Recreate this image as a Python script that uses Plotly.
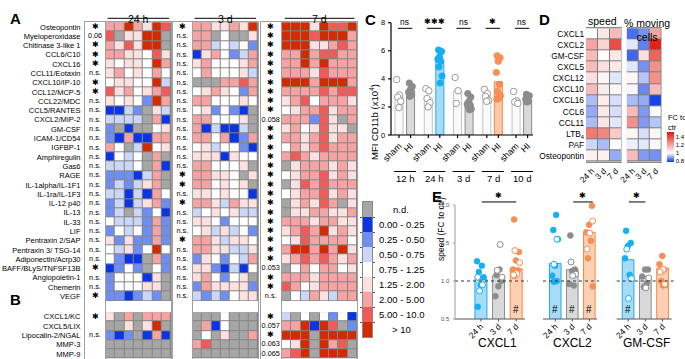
import plotly.graph_objects as go

W, H = 685, 359
def PX(x): return x / W
def PY(y): return 1 - y / H
FONT = "Liberation Sans, Arial, sans-serif"

# ---------------- Panel A / B data ----------------
rows_A = ["Osteopontin", "Myeloperoxidase", "Chitinase 3-like 1", "CCL6/C10", "CXCL16",
          "CCL11/Eotaxin", "CXCL10/IP-10", "CCL12/MCP-5", "CCL22/MDC", "CCL5/RANTES",
          "CXCL2/MIP-2", "GM-CSF", "ICAM-1/CD54", "IGFBP-1", "Amphiregulin", "Gas6", "RAGE",
          "IL-1alpha/IL-1F1", "IL-1ra/IL-1F3", "IL-12 p40", "IL-13", "IL-33", "LIF",
          "Pentraxin 2/SAP", "Pentraxin 3/ TSG-14", "Adiponectin/Acrp30", "BAFF/BLyS/TNFSF13B",
          "Angiopoietin-1", "Chemerin", "VEGF"]
rows_B = ["CXCL1/KC", "CXCL5/LIX", "Lipocalin-2/NGAL", "MMP-3", "MMP-9"]

# category codes: 0 n.d., 1 0-0.25, 2 0.25-0.5, 3 0.5-0.75, 4 0.75-1.25, 5 1.25-2, 6 2-5, 7 5-10, 8 >10
hm24_A = [
    [6,6,8,6,5,8,7],[7,0,5,5,8,8,0],[6,5,7,5,8,8,0],[6,6,5,5,4,7,5],[5,4,5,5,4,8,6],
    [5,6,4,5,4,6,4],[4,5,5,4,4,8,3],[7,5,6,4,5,6,7],[5,4,5,4,2,8,6],[1,1,3,2,0,5,3],
    [3,3,3,3,0,6,1],[2,0,1,0,0,4,5],[2,1,6,1,1,6,6],[6,4,0,3,8,4,5],[1,4,3,4,0,6,0],
    [3,3,3,4,0,6,1],[2,2,2,1,3,6,0],[2,3,2,3,5,6,0],[3,3,1,3,1,6,4],[2,3,1,3,5,6,2],
    [2,3,0,3,2,4,1],[4,3,3,3,2,6,2],[2,4,3,4,2,6,2],[5,2,5,2,2,6,2],[4,3,5,2,4,8,4],
    [4,2,1,1,0,6,2],[1,2,4,2,0,4,2],[2,4,4,4,1,5,0],[2,4,4,4,5,5,0],[2,2,1,2,3,2,0]]
hm3d_A = [
    [6,6,5,5,6,5,8],[6,6,0,4,0,0,5],[6,6,3,4,3,4,2],[1,5,6,4,2,3,6],[5,6,4,4,4,5,6],
    [4,6,4,4,4,5,3],[0,0,0,6,6,7,6],[4,5,6,5,4,2,6],[6,6,4,4,4,5,4],[4,5,2,4,2,1,0],
    [6,6,4,4,4,5,0],[6,1,3,1,1,3,0],[6,6,4,6,1,2,6],[4,5,3,4,4,2,1],[5,5,5,1,5,4,4],
    [6,6,4,4,4,5,0],[6,6,5,5,4,0,5],[6,6,4,5,4,5,0],[5,5,4,5,4,4,1],[6,6,5,3,6,5,5],
    [3,4,5,4,5,3,3],[5,5,4,2,4,4,4],[4,5,3,5,3,4,2],[6,6,5,3,5,5,4],[6,6,5,5,3,3,5],
    [2,5,4,2,4,3,6],[5,5,2,1,3,1,4],[5,6,4,2,4,5,0],[2,6,5,5,5,5,2],[3,2,3,2,4,5,5]]
hm7d_A = [
    [8,8,8,5,8,7,7,8],[8,8,8,7,8,8,8,6],[8,8,8,5,5,6,7,6],[6,6,8,6,7,7,6,6],[6,6,8,6,8,6,6,6],
    [6,6,6,5,7,6,6,6],[8,8,8,6,8,8,8,6],[6,6,6,6,7,6,7,7],[5,6,7,4,6,6,6,5],[4,5,6,6,7,5,6,6],
    [6,6,6,2,7,5,0,6],[5,6,4,5,7,5,5,0],[6,6,5,6,7,5,6,6],[4,6,5,6,7,6,6,6],[6,7,6,5,6,6,6,6],
    [0,5,6,6,6,5,6,5],[4,5,6,6,7,5,6,5],[0,5,7,6,7,6,6,6],[4,5,6,6,7,5,6,5],[0,5,6,5,7,6,0,5],
    [0,5,5,6,6,5,5,6],[6,6,6,5,6,6,5,5],[5,6,7,6,8,5,6,5],[4,5,7,6,6,6,6,4],[6,8,8,6,8,6,8,5],
    [5,6,7,6,7,6,5,6],[0,4,6,4,6,6,4,5],[6,6,6,5,6,6,6,6],[7,6,4,5,6,6,6,6],[0,4,3,6,5,3,6,6]]
hm24_B = [[5,0,6,0,6,6,6],[0,0,5,0,5,8,0],[2,1,2,0,1,6,1],[0,0,0,0,0,0,0],[0,0,0,0,0,0,0]]
hm3d_B = [[0,0,0,4,0,0,0],[0,6,1,4,0,0,0],[0,4,0,5,0,0,6],[6,7,0,0,0,0,0],[0,0,0,0,0,0,0]]
hm7d_B = [[3,0,4,0,4,2,4,1],[6,6,8,1,8,7,0,2],[8,8,8,0,8,8,8,8],[4,5,8,0,8,6,7,0],[6,7,8,0,8,8,8,0]]

S = "\u2731"
sig24_A = [S,"0.06",S,S,S,"n.s.",S,S] + ["n.s."]*18 + [S,"n.s.","n.s.",S]
sig3d_A = [S] + ["n.s."]*15 + [S,S,"n.s.",S,"n.s.","n.s.","n.s.",S] + ["n.s."]*6
sig7d_A = [S]*10 + ["0.058"] + [S]*15 + ["0.053",S,S,"n.s."]
sig24_B = [S,"","n.s.","",""]
sig3d_B = ["","","","",""]
sig7d_B = [S,"0.057",S,"0.063","0.065"]
block_titles = ["24 h", "3 d", "7 d"]

legend_labels = ["n.d.", "0.00 - 0.25", "0.25 - 0.50", "0.50 - 0.75", "0.75 - 1.25",
                 "1.25 - 2.00", "2.00 - 5.00", "5.00 - 10.0", "> 10"]
cat_colors = ["#a6a6a6", "#0b35e3", "#6e8ef1", "#cbd7f7", "#ffffff",
              "#fde1e1", "#f6a3a3", "#f25a5a", "#d42a00"]

# ---------------- Panel C data ----------------
C_groups = ["12 h", "24 h", "3 d", "7 d", "10 d"]
C_sham_bar = [2.75, 2.65, 3.15, 2.75, 2.55]
C_hi_bar = [3.2, 5.18, 2.26, 3.8, 2.55]
C_sham_pts = [[3.95,2.85,2.7,2.4,1.95],[3.3,3.15,2.6,2.3,2.0],[4.1,3.15,2.25],
              [3.25,2.95,2.75,2.45,2.4],[3.1,2.45,2.35,2.25]]
C_hi_pts = [[3.7,3.45,3.25,3.05,2.85,2.75],[6.05,5.95,5.6,5.4,5.25,4.85,4.2,3.7],
            [2.95,2.7,2.4,2.2,2.1,2.0,1.85,1.8],[5.65,5.5,5.25,4.45,3.6,3.1,2.8,2.6,2.55],
            [2.9,2.8,2.65,2.55,2.4,2.35]]
C_yticks = [0, 2, 4, 6, 8]
C_sig = ["ns", S+S+S, "ns", S, "ns"]
C_hi_fill = ["#d9d9d9", "#a6dcf7", "#d9d9d9", "#fcc9a8", "#d9d9d9"]
C_hi_line = ["#8c8c8c", "#22a8ee", "#8c8c8c", "#f5894a", "#8c8c8c"]
C_hi_pt = ["#8c8c8c", "#14b0f2", "#8c8c8c", "#f78f57", "#8c8c8c"]

# ---------------- Panel D data ----------------
D_rows = ["CXCL1", "CXCL2", "GM-CSF", "CXCL5", "CXCL12", "CXCL10", "CXCL16", "CCL6",
          "CCL11", "LTB<sub>4</sub>", "PAF", "Osteopontin"]
D_times = ["24 h", "3 d", "7 d"]
D_speed = [[1.0,1.05,1.15],[1.2,1.1,1.4],[1.15,1.0,1.05],[1.15,1.07,1.05],[1.07,1.02,0.97],
           [1.15,1.04,1.02],[0.92,1.04,0.96],[0.9,1.05,0.96],[0.92,1.06,0.97],[1.3,1.27,1.12],
           [0.95,0.92,1.0],[1.03,1.03,0.9]]
D_moving = [[0.83,0.87,1.2],[0.97,0.85,1.5],[0.82,1.07,1.35],[0.97,0.87,1.25],[1.02,0.93,1.25],
            [0.99,0.86,1.15],[0.92,0.9,0.78],[1.15,0.88,0.99],[1.25,0.88,0.93],[1.02,0.96,1.02],
            [0.98,0.97,0.99],[1.15,0.88,0.87]]
D_ticks = [0.8, 1.0, 1.2, 1.4]

# ---------------- Panel E data ----------------
E_names = ["CXCL1", "CXCL2", "GM-CSF"]
E_times = ["24 h", "3 d", "7 d"]
E_yticks = [0.5, 1.0, 1.5, 2.0]
E_bar = [[1.02,1.07,1.16],[1.23,1.15,1.64],[1.28,1.06,1.17]]
E_filled = [
    [[1.26,1.2,1.12,1.05,0.95,0.66],[1.15,1.08,1.0,0.93,0.8],[1.81,1.38,1.27,1.15,1.14,1.07]],
    [[1.87,1.67,1.55,1.2,1.07,1.0,0.99],[1.6,1.15,1.13,0.96,0.94],[1.99,1.74,1.64,1.53,1.3,0.93]],
    [[1.66,1.5,1.46,1.3,1.08],[1.15,1.15,1.06,0.97,0.92],[1.33,1.22,1.15,1.0,0.95,0.94]]]
E_open = [
    [[1.05,0.95,0.87],[1.48,1.14,1.05],[1.40,1.24,1.10,1.08]],
    [[1.55,1.22],[1.25,1.09,1.07],[1.79,1.63,1.42]],
    [[1.42,1.03,0.77],[1.04,0.91],[1.15,1.12,0.96]]]
E_hash = [[False,False,True],[True,True,True],[True,False,False]]
E_sig_pairs = [(0,2),(1,2),(0,1)]
E_fill = ["#a6dcf7", "#d9d9d9", "#fdd0b4"]
E_line = ["#22a8ee", "#8c8c8c", "#f5894a"]
E_pt = ["#14b0f2", "#8c8c8c", "#f78f57"]

# ----------------------------------------------------------------
def jitter(n, amp, start=0):
    return [(((k + start) * 0.6180339) % 1.0 - 0.5) * 2 * amp for k in range(n)]

def discrete_scale(colors):
    n = len(colors); cs = []
    for i, c in enumerate(colors):
        cs.append([i / n, c]); cs.append([(i + 1) / n, c])
    return cs

def to_paper(v, dom, rng):
    return dom[0] + (v - rng[0]) / (rng[1] - rng[0]) * (dom[1] - dom[0])

fig = go.Figure()
shapes, annots = [], []
LG = "#a0a0a0"
CS = discrete_scale(cat_colors)

def draw_y_axis(xpos, dom, rng, vals, texts, color, tcolor, fsize, tlen, lw):
    shapes.append(dict(type="line", xref="paper", yref="paper", x0=xpos, x1=xpos, y0=dom[0], y1=dom[1],
                       line=dict(color=color, width=lw)))
    for v, t in zip(vals, texts):
        yp = to_paper(v, dom, rng)
        shapes.append(dict(type="line", xref="paper", yref="paper", x0=xpos - tlen / W, x1=xpos,
                           y0=yp, y1=yp, line=dict(color=color, width=lw)))
        annots.append(dict(text=t, xref="paper", yref="paper", x=xpos - (tlen + 1.5) / W, y=yp,
                           xanchor="right", yanchor="middle", showarrow=False,
                           font=dict(size=fsize, family=FONT, color=tcolor)))

def draw_x_axis(xa, ypos, vals, color, tlen, lw):
    shapes.append(dict(type="line", xref=xa + " domain", yref="paper", x0=0, x1=1, y0=ypos, y1=ypos,
                       line=dict(color=color, width=lw)))
    for v in vals:
        shapes.append(dict(type="line", xref=xa, yref="paper", x0=v, x1=v, y0=ypos, y1=ypos - tlen / H,
                           line=dict(color=color, width=lw)))

posA = list(range(len(rows_A)))
posB = [31.2 + j for j in range(len(rows_B))]

hm_blocks = [("x2", hm24_A, hm24_B), ("x4", hm3d_A, hm3d_B), ("x6", hm7d_A, hm7d_B)]
sig_blocks = [("x", sig24_A, sig24_B), ("x3", sig3d_A, sig3d_B), ("x5", sig7d_A, sig7d_B)]

for xa, mA, mB in hm_blocks:
    nc = len(mA[0])
    for m, pos in ((mA, posA), (mB, posB)):
        fig.add_trace(go.Heatmap(z=m, x=list(range(nc)), y=pos, colorscale=CS, zmin=-0.5, zmax=8.5,
                                 showscale=False, xgap=1, ygap=1, xaxis=xa, yaxis="y", hoverinfo="skip"))
        shapes.append(dict(type="rect", xref=xa, yref="y", x0=-0.5, x1=nc - 0.5,
                           y0=pos[0] - 0.5, y1=pos[-1] + 0.5, fillcolor="#858585",
                           line=dict(width=0), layer="below"))

for xa, sA, sB in sig_blocks:
    labels = sA + sB
    sizes = [7.5 if t == S else 7.3 for t in labels]
    fig.add_trace(go.Scatter(x=[0] * len(labels), y=posA + posB, mode="text", text=labels,
                             textfont=dict(size=sizes, family=FONT, color="black"),
                             xaxis=xa, yaxis="y", cliponaxis=False, hoverinfo="skip", showlegend=False))

# block headers
hdr = [("x2", 3.0, -0.3, 6.3), ("x4", 3.0, -0.3, 6.3), ("x6", 3.5, -0.2, 7.2)]
for (xa, cx, a, b), t in zip(hdr, block_titles):
    annots.append(dict(text=t, xref=xa, x=cx, yref="paper", y=PY(10.5), showarrow=False,
                       font=dict(size=10.5, family=FONT)))
    shapes.append(dict(type="line", xref=xa, yref="paper", x0=a, x1=b, y0=PY(18.3), y1=PY(18.3),
                       line=dict(color="black", width=1)))

# discrete legend
fig.add_trace(go.Heatmap(z=[[i] for i in range(9)], x=[0], y=list(range(9)), colorscale=CS,
                         zmin=-0.5, zmax=8.5, showscale=False, xaxis="x10", yaxis="y4", hoverinfo="skip"))
for i, t in enumerate(legend_labels):
    annots.append(dict(text=t, xref="paper", x=PX(401), yref="y4", y=i, showarrow=False,
                       font=dict(size=9.5, family=FONT)))

# ---------------- Panel C ----------------
C_DOM = [PY(135), PY(22.7)]
C_RNG = [0, 8]
C_X0 = PX(391)
GS, HO = 2.66, 1.05
sham_x = [g * GS for g in range(len(C_groups))]
hi_x = [g * GS + HO for g in range(len(C_groups))]
fig.add_trace(go.Bar(x=sham_x, y=C_sham_bar, width=0.73, marker=dict(color="#fafafa",
              line=dict(color="#c4c4c4", width=1)), xaxis="x7", yaxis="y2", hoverinfo="skip"))
fig.add_trace(go.Bar(x=hi_x, y=C_hi_bar, width=0.73, marker=dict(color=C_hi_fill,
              line=dict(color=C_hi_line, width=1)), xaxis="x7", yaxis="y2", hoverinfo="skip"))
for g in range(len(C_groups)):
    pts = C_sham_pts[g]
    fig.add_trace(go.Scatter(x=[sham_x[g] + j for j in jitter(len(pts), 0.22)], y=pts, mode="markers",
                             marker=dict(size=6.5, color="white", line=dict(color="#9a9a9a", width=1)),
                             xaxis="x7", yaxis="y2", hoverinfo="skip", cliponaxis=False))
    pts = C_hi_pts[g]
    fig.add_trace(go.Scatter(x=[hi_x[g] + j for j in jitter(len(pts), 0.22, 2)], y=pts, mode="markers",
                             marker=dict(size=6.5, color=C_hi_pt[g], line=dict(color=C_hi_line[g], width=0.6)),
                             xaxis="x7", yaxis="y2", hoverinfo="skip", cliponaxis=False))
    shapes.append(dict(type="line", xref="x7", yref="y2", x0=sham_x[g] - 0.1, x1=hi_x[g] + 0.15,
                       y0=7.6, y1=7.6, line=dict(color="black", width=1)))
    annots.append(dict(text=C_sig[g], xref="x7", yref="paper", x=(sham_x[g] + hi_x[g]) / 2,
                       y=to_paper(8.08, C_DOM, C_RNG), yanchor="middle", showarrow=False,
                       font=dict(size=8.5 if C_sig[g] == "ns" else 8, family=FONT)))
    shapes.append(dict(type="line", xref="x7", yref="paper", x0=sham_x[g] - 0.45, x1=hi_x[g] + 0.5,
                       y0=PY(171.5), y1=PY(171.5), line=dict(color="black", width=1)))
    annots.append(dict(text=C_groups[g], xref="x7", yref="paper", x=(sham_x[g] + hi_x[g]) / 2 + 0.05,
                       y=PY(178.5), showarrow=False, font=dict(size=9.5, family=FONT)))
annots.append(dict(text="MFI CD11b (x10<sup>4</sup>)", xref="paper", yref="paper", x=PX(374), y=PY(82),
                   textangle=-90, showarrow=False, font=dict(size=9.5, family=FONT)))
c_ticks = []
c_text = []
for g in range(len(C_groups)):
    c_ticks += [sham_x[g], hi_x[g]]; c_text += ["sham", "HI"]
draw_y_axis(C_X0, C_DOM, C_RNG, C_yticks, [str(v) for v in C_yticks], "black", "black", 7.5, 3, 1.2)
draw_x_axis("x7", C_DOM[0], c_ticks, "black", 3, 1.2)

# ---------------- Panel D ----------------
D_CS = [[0, "#0a3be8"], [0.3, "#ffffff"], [1, "#e4140a"]]
for xa, m, show in (("x8", D_speed, False), ("x9", D_moving, True)):
    fig.add_trace(go.Heatmap(z=m, x=list(range(3)), y=list(range(len(D_rows))), colorscale=D_CS,
                             zmin=0.77, zmax=1.53, xgap=1, ygap=1, xaxis=xa, yaxis="y3",
                             hoverinfo="skip", showscale=show,
                             colorbar=dict(x=PX(666.5), xanchor="left", y=PY(161.7), yanchor="bottom",
                                           lenmode="pixels", len=30, thickness=7, outlinewidth=0,
                                           xpad=0, ypad=0, tickvals=D_ticks, ticks="",
                                           tickfont=dict(size=6, family=FONT, color="black"))))
    shapes.append(dict(type="rect", xref=xa, yref="y3", x0=-0.5, x1=2.5, y0=-0.5, y1=len(D_rows) - 0.5,
                       fillcolor="#7d7d7d", line=dict(width=0), layer="below"))
annots.append(dict(text="speed", xref="x8", x=0.9, yref="paper", y=PY(13.5), showarrow=False,
                   font=dict(size=10.5, family=FONT)))
annots.append(dict(text="% moving<br>cells", xref="x9", x=1.2, yref="paper", y=PY(15), showarrow=False,
                   font=dict(size=10.5, family=FONT)))
annots.append(dict(text="FC to<br>ctr", xref="paper", x=PX(665.5), xanchor="left", yref="paper",
                   y=PY(122.5), showarrow=False, align="left", font=dict(size=7.5, family=FONT)))

# ---------------- Panel E ----------------
E_DOM = [PY(319), PY(205)]
E_RNG = [0.5, 2.0]
E_X0 = PX(455)
e_axes = ["x11", "x12", "x13"]
for k, xa in enumerate(e_axes):
    fig.add_trace(go.Bar(x=[0, 1, 2], y=E_bar[k], width=0.68, marker=dict(color=E_fill,
                  line=dict(color=E_line, width=1)), xaxis=xa, yaxis="y5", hoverinfo="skip"))
    for t in range(3):
        f = E_filled[k][t]; o = E_open[k][t]
        fig.add_trace(go.Scatter(x=[t + j for j in jitter(len(f), 0.22, k + t)], y=f, mode="markers",
                                 marker=dict(size=6, color=E_pt[t], line=dict(color=E_line[t], width=0.5)),
                                 xaxis=xa, yaxis="y5", hoverinfo="skip", cliponaxis=False))
        fig.add_trace(go.Scatter(x=[t + j for j in jitter(len(o), 0.22, k + t + 5)], y=o, mode="markers",
                                 marker=dict(size=6, color="white", line=dict(color=E_pt[t], width=1)),
                                 xaxis=xa, yaxis="y5", hoverinfo="skip", cliponaxis=False))
        if E_hash[k][t]:
            annots.append(dict(text="#", xref=xa, yref="y5", x=t, y=0.62, showarrow=False,
                               font=dict(size=10, family=FONT)))
    shapes.append(dict(type="line", xref=xa + " domain", yref="y5", x0=0, x1=1.04, y0=1, y1=1,
                       line=dict(color="#333", width=1, dash="dot")))
    a, b = E_sig_pairs[k]
    ly = to_paper(2.04, E_DOM, E_RNG)
    shapes.append(dict(type="line", xref=xa, yref="paper", x0=a + 0.05, x1=b + 0.2 * (k == 1),
                       y0=ly, y1=ly, line=dict(color="black", width=1)))
    annots.append(dict(text=S, xref=xa, yref="paper", x=(a + b + 0.2 * (k == 1)) / 2,
                       y=to_paper(2.13, E_DOM, E_RNG), showarrow=False, font=dict(size=7.5, family=FONT)))
    annots.append(dict(text=E_names[k], xref=xa + " domain", yref="paper", x=0.6 if k == 0 else 0.55,
                       y=PY(351.5), showarrow=False, font=dict(size=12, family=FONT)))
    draw_x_axis(xa, E_DOM[0], [0, 1, 2], "#555", 2.5, 1)
annots.append(dict(text="speed (FC to ctr)", xref="paper", yref="paper", x=PX(441), y=PY(263),
                   textangle=-90, showarrow=False, font=dict(size=8.5, family=FONT)))
draw_y_axis(E_X0, E_DOM, E_RNG, E_yticks, ["%.1f" % v for v in E_yticks], "#9a9a9a", "#555", 6, 2, 1)

# panel letters
for t, x, y in (("A", 8, 8), ("B", 8, 310), ("C", 370, 9), ("D", 552, 9), ("E", 437, 196)):
    annots.append(dict(text="<b>%s</b>" % t, xref="paper", yref="paper", x=PX(x), y=PY(y),
                       showarrow=False, font=dict(size=15, family=FONT)))

# ---------------- axes ----------------
def hax(d0, d1, rng, anchor):
    return dict(domain=[PX(d0), PX(d1)], range=rng, anchor=anchor, showline=True, mirror=True,
                linecolor=LG, linewidth=1, showticklabels=False, ticks="", showgrid=False,
                zeroline=False, fixedrange=True)

def plain(dom, rng, anchor, **kw):
    d = dict(domain=dom, range=rng, anchor=anchor, showline=False, ticks="", showgrid=False,
             zeroline=False, showticklabels=False)
    d.update(kw)
    return d

lay = dict(
    xaxis=hax(85, 105, [-1, 1], "y"),
    xaxis2=hax(105.7, 171, [-0.5, 6.5], "y"),
    xaxis3=hax(173, 191.7, [-1, 1], "y"),
    xaxis4=hax(192.7, 258, [-0.5, 6.5], "y"),
    xaxis5=hax(261, 280.5, [-1, 1], "y"),
    xaxis6=hax(282, 357.3, [-0.5, 7.5], "y"),
    yaxis=dict(domain=[PY(358.6), PY(22.3)], range=[35.7, -0.5], anchor="x", tickvals=posA + posB,
               ticktext=rows_A + rows_B, tickfont=dict(size=7.5, family=FONT, color="black"),
               ticks="", showline=True, mirror="all", linecolor=LG, showgrid=False, zeroline=False,
               ticklabelstandoff=2),
    xaxis7=plain([C_X0, PX(533)], [-0.73, 12.18], "y2", showticklabels=True, tickvals=c_ticks,
                 ticktext=c_text, tickangle=-45, tickfont=dict(size=9, family=FONT), ticklabelstandoff=3),
    yaxis2=plain(C_DOM, C_RNG, "x7"),
    xaxis8=dict(domain=[PX(586), PX(621.7)], range=[-0.5, 2.5], anchor="y3", tickvals=[0, 1, 2],
                ticktext=D_times, tickangle=-45, ticks="", tickfont=dict(size=8.5, family=FONT),
                showline=True, mirror=True, linecolor="#8a8a8a", showgrid=False, zeroline=False),
    xaxis9=dict(domain=[PX(626.7), PX(661.7)], range=[-0.5, 2.5], anchor="y3", tickvals=[0, 1, 2],
                ticktext=D_times, tickangle=-45, ticks="", tickfont=dict(size=8.5, family=FONT),
                showline=True, mirror=True, linecolor="#8a8a8a", showgrid=False, zeroline=False),
    yaxis3=dict(domain=[PY(161.7), PY(28.3)], range=[len(D_rows) - 0.5, -0.5], anchor="x8",
                tickvals=list(range(len(D_rows))), ticktext=D_rows, ticks="",
                tickfont=dict(size=8.3, family=FONT), showgrid=False, zeroline=False, ticklabelstandoff=1),
    xaxis10=dict(domain=[PX(363), PX(372)], range=[-0.5, 0.5], anchor="y4", showticklabels=False,
                 ticks="", showline=True, mirror=True, linecolor="#888", showgrid=False, zeroline=False),
    yaxis4=dict(domain=[PY(337), PY(202)], range=[8.5, -0.5], anchor="x10", showticklabels=False,
                tickvals=[i + 0.5 for i in range(8)], ticks="outside", ticklen=2, tickcolor="#555",
                showline=True, mirror="ticks", linecolor="#888", showgrid=False, zeroline=False),
    yaxis5=plain(E_DOM, E_RNG, "x11"),
)
for k, dom, rng in (("xaxis11", [E_X0, PX(525)], [-1.47, 2.5]),
                    ("xaxis12", [PX(543), PX(597)], [-0.72, 2.45]),
                    ("xaxis13", [PX(616.7), PX(671.7)], [-0.66, 2.53])):
    lay[k] = plain(dom, rng, "y5", showticklabels=True, tickvals=[0, 1, 2], ticktext=E_times,
                   tickangle=-45, tickfont=dict(size=8.5, family=FONT), ticklabelstandoff=0)
for k in lay:
    lay[k]["automargin"] = False

fig.update_layout(**lay)
fig.update_layout(template="none", width=W, height=H, margin=dict(l=0, r=0, t=0, b=0, pad=0),
                  showlegend=False, paper_bgcolor="white", plot_bgcolor="white", barmode="overlay",
                  font=dict(family=FONT, color="black"), shapes=shapes, annotations=annots)
fig.write_html("out.html", config={"displayModeBar": False},
               post_script="document.body.style.margin='0px';document.body.style.overflow='hidden';")
